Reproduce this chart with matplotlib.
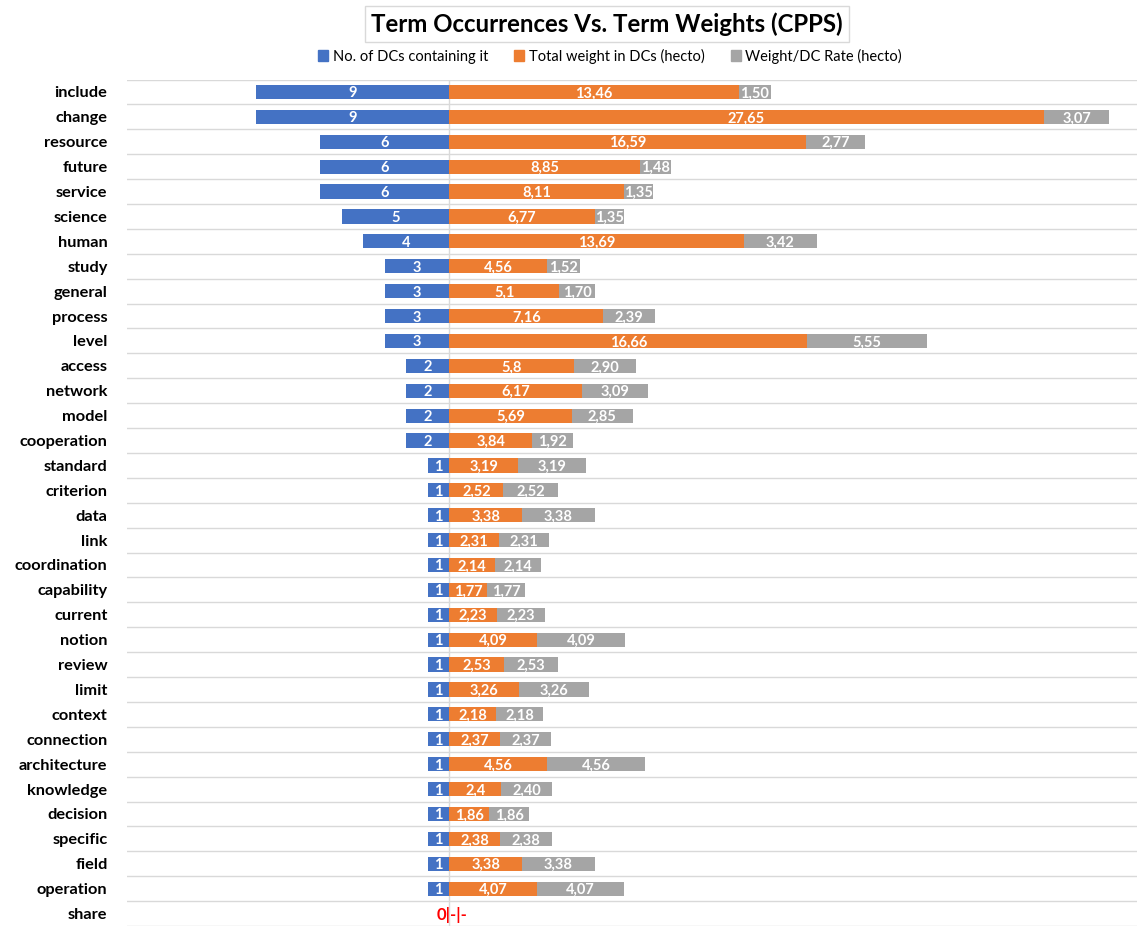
import numpy as np
import matplotlib
matplotlib.use("Agg")
import matplotlib.pyplot as plt
from matplotlib.patches import Patch

plt.rcParams["font.family"] = ["Lato", "DejaVu Sans"]

terms = [
    "include", "change", "resource", "future", "service", "science", "human",
    "study", "general", "process", "level", "access", "network", "model",
    "cooperation", "standard", "criterion", "data", "link", "coordination",
    "capability", "current", "notion", "review", "limit", "context",
    "connection", "architecture", "knowledge", "decision", "specific",
    "field", "operation", "share",
]
dc_counts = [9, 9, 6, 6, 6, 5, 4, 3, 3, 3, 3, 2, 2, 2, 2,
             1, 1, 1, 1, 1, 1, 1, 1, 1, 1, 1, 1, 1, 1, 1, 1, 1, 1, 0]
total_weight = [13.46, 27.65, 16.59, 8.85, 8.11, 6.77, 13.69, 4.56, 5.1, 7.16,
                16.66, 5.8, 6.17, 5.69, 3.84, 3.19, 2.52, 3.38, 2.31, 2.14,
                1.77, 2.23, 4.09, 2.53, 3.26, 2.18, 2.37, 4.56, 2.4, 1.86,
                2.38, 3.38, 4.07, 0]
weight_rate = [1.50, 3.07, 2.77, 1.48, 1.35, 1.35, 3.42, 1.52, 1.70, 2.39,
               5.55, 2.90, 3.09, 2.85, 1.92, 3.19, 2.52, 3.38, 2.31, 2.14,
               1.77, 2.23, 4.09, 2.53, 3.26, 2.18, 2.37, 4.56, 2.40, 1.86,
               2.38, 3.38, 4.07, 0]

BLUE, ORANGE, GRAY = "#4472C4", "#ED7D31", "#A5A5A5"
W, H = 1138, 926

fig = plt.figure(figsize=(W / 100, H / 100), dpi=100)
ax = fig.add_axes([127 / W, 0, (1137 - 127) / W, (H - 79.5) / H])

y = np.arange(len(terms))
counts = np.array(dc_counts, dtype=float)
tw = np.array(total_weight)
wr = np.array(weight_rate)
h = 0.57

ax.barh(y, -counts, height=h, color=BLUE, zorder=3)
ax.barh(y, tw, height=h, color=ORANGE, zorder=3)
ax.barh(y, wr, left=tw, height=h, color=GRAY, zorder=3)

lab = dict(color="white", fontsize=10.5, fontweight="bold", ha="center",
           va="center_baseline", zorder=4)
for i in range(len(terms)):
    if counts[i] == 0:
        ax.text(-0.58, i, "0|-|-", color="red", fontsize=12, fontweight="bold",
                ha="left", va="center_baseline", zorder=4)
        continue
    ax.text(-counts[i] / 2, i, f"{dc_counts[i]}", **lab)
    ax.text(tw[i] / 2, i, f"{tw[i]:g}".replace(".", ","), **lab)
    ax.text(tw[i] + wr[i] / 2, i, f"{wr[i]:.2f}".replace(".", ","), **lab)

ax.set_xlim(-15, 32)
ax.set_ylim(-0.5 + (H - 79.5) / 24.94, -0.5)
ax.set_yticks(y)
ax.set_yticklabels(terms, fontsize=11.8, fontweight="bold")
ax.set_yticks(np.arange(-0.5, len(terms)), minor=True)
ax.tick_params(axis="y", which="both", length=0, pad=14)
ax.set_xticks([])
ax.grid(axis="y", which="minor", color="#d9d9d9", linewidth=1, zorder=0)
ax.axvline(0, color="#d9d9d9", linewidth=1, zorder=2)
for s in ax.spines.values():
    s.set_visible(False)

fig.text(607 / W, 1 - 24 / H, "Term Occurrences Vs. Term Weights (CPPS)",
         ha="center", va="center", fontsize=17.3, fontweight="bold",
         bbox=dict(facecolor="white", edgecolor="#d9d9d9", linewidth=1,
                   boxstyle="square,pad=0.25"))

handles = [Patch(color=BLUE), Patch(color=ORANGE), Patch(color=GRAY)]
fig.legend(handles,
           ["No. of DCs containing it", "Total weight in DCs (hecto)",
            "Weight/DC Rate (hecto)"],
           loc="center", bbox_to_anchor=(610 / W, 1 - 56 / H), ncol=3,
           frameon=False, fontsize=10.5, handlelength=0.7, handleheight=0.7,
           handletextpad=0.3, columnspacing=1.8)

fig.savefig("out.png", dpi=100)
